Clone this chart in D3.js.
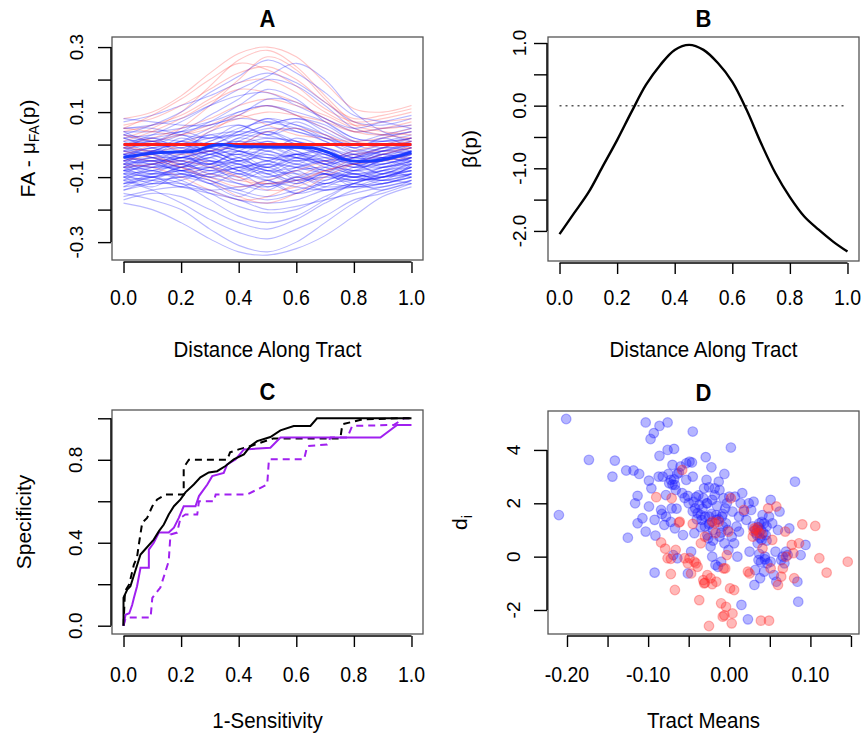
<!DOCTYPE html>
<html><head><meta charset="utf-8">
<script src="https://cdn.jsdelivr.net/npm/d3@7"></script>
<style>
body{margin:0;background:#fff;}
text{font-family:"Liberation Sans",Arial,Helvetica,sans-serif;fill:#000;}
</style></head>
<body><svg id="c" width="864" height="735"></svg>
<script>
// ---------------- DATA ----------------
// Panel A: positions along tract, individual curves (FA - mean)
const pA = [0,.1,.2,.3,.4,.5,.6,.7,.8,.9,1];
const blueCurves = [
[-.02,-.01,.00,.02,.03,.02,.01,-.01,-.03,-.02,.00],
[-.06,-.05,-.05,-.03,-.02,-.03,-.04,-.06,-.08,-.07,-.05],
[-.10,-.09,-.08,-.07,-.09,-.10,-.08,-.07,-.09,-.08,-.06],
[.02,.03,.04,.06,.08,.07,.05,.02,.00,.01,.03],
[-.14,-.12,-.10,-.12,-.15,-.17,-.15,-.12,-.11,-.10,-.08],
[-.04,-.02,.01,.05,.10,.12,.09,.04,.00,-.02,-.01],
[-.08,-.07,-.06,-.04,-.03,-.05,-.07,-.09,-.11,-.10,-.07],
[.05,.06,.08,.12,.15,.16,.12,.08,.04,.05,.06],
[-.17,-.15,-.16,-.20,-.24,-.26,-.23,-.18,-.14,-.12,-.10],
[-.01,.00,.03,.07,.12,.17,.14,.07,.02,.01,.02],
[-.05,-.06,-.08,-.10,-.12,-.13,-.11,-.09,-.10,-.09,-.06],
[-.03,-.02,-.01,.00,-.02,-.04,-.03,-.02,-.05,-.04,-.02],
[-.12,-.11,-.10,-.09,-.07,-.06,-.07,-.08,-.10,-.11,-.09],
[.01,.02,.04,.09,.14,.20,.18,.12,.05,.03,.04],
[-.07,-.08,-.11,-.15,-.19,-.21,-.20,-.16,-.12,-.09,-.07],
[-.09,-.08,-.06,-.03,.00,.02,.01,-.02,-.06,-.07,-.05],
[.03,.02,.01,.00,-.02,-.04,-.05,-.04,-.03,-.01,.02],
[-.15,-.17,-.20,-.26,-.31,-.33,-.30,-.24,-.18,-.14,-.12],
[-.06,-.04,-.02,.01,.05,.07,.06,.03,-.01,-.03,-.04],
[-.02,-.04,-.06,-.08,-.07,-.05,-.03,-.04,-.06,-.05,-.03],
[.07,.09,.12,.15,.19,.22,.19,.13,.07,.06,.08],
[-.11,-.10,-.09,-.11,-.14,-.16,-.14,-.12,-.13,-.12,-.10],
[-.04,-.05,-.04,-.02,.02,.05,.04,.01,-.03,-.04,-.02],
[.00,.01,.00,-.02,-.05,-.08,-.07,-.05,-.04,-.02,.00],
[-.13,-.12,-.12,-.14,-.17,-.18,-.17,-.14,-.13,-.13,-.11],
[-.08,-.06,-.03,.01,.04,.08,.06,.02,-.02,-.04,-.05],
[-.03,-.03,-.02,-.01,.01,.00,-.01,-.03,-.06,-.06,-.04],
[.04,.04,.05,.07,.10,.12,.10,.07,.02,.01,.02],
[-.10,-.11,-.13,-.15,-.17,-.20,-.19,-.17,-.15,-.13,-.11],
[-.05,-.04,-.04,-.05,-.06,-.08,-.09,-.09,-.10,-.08,-.05],
[-.01,-.02,-.02,.00,.03,.06,.08,.06,.01,-.01,.00],
[-.07,-.06,-.04,-.02,-.01,-.02,-.04,-.05,-.07,-.06,-.04],
[.02,.00,-.01,-.03,-.06,-.09,-.11,-.10,-.07,-.04,-.01],
[-.12,-.10,-.07,-.04,-.01,.00,-.02,-.05,-.09,-.10,-.09],
[-.06,-.07,-.07,-.06,-.08,-.11,-.13,-.14,-.13,-.10,-.08],
[.00,.03,.07,.12,.17,.21,.25,.20,.10,.04,.01],
[-.09,-.10,-.12,-.17,-.22,-.24,-.22,-.17,-.12,-.10,-.09],
[-.03,-.01,.01,.03,.04,.03,.00,-.03,-.05,-.03,-.01],
[-.16,-.14,-.13,-.14,-.13,-.12,-.11,-.10,-.11,-.10,-.07],
[-.02,-.03,-.05,-.06,-.04,-.01,.00,-.01,-.04,-.04,-.02],
[.05,.05,.03,.02,.03,.06,.08,.05,.01,.03,.05],
[-.08,-.09,-.09,-.07,-.05,-.04,-.06,-.09,-.12,-.12,-.10],
[-.18,-.20,-.24,-.29,-.33,-.34,-.32,-.28,-.22,-.16,-.13],
[.08,.07,.06,.06,.09,.14,.13,.08,.05,.07,.09],
[-.05,-.03,-.06,-.02,-.05,-.01,-.04,-.06,-.03,-.07,-.04],
[-.09,-.06,-.08,-.05,-.07,-.09,-.06,-.08,-.10,-.07,-.06],
[.00,-.03,.01,-.02,.02,.00,-.03,-.01,-.04,-.02,.01],
[-.11,-.08,-.10,-.07,-.11,-.08,-.12,-.09,-.11,-.08,-.07],
[-.03,-.06,-.03,-.07,-.04,-.08,-.05,-.08,-.06,-.09,-.05],
[.03,.01,.04,.02,.06,.03,.05,.01,-.02,.00,.02],
[-.07,-.04,-.07,-.03,-.06,-.02,-.05,-.03,-.07,-.05,-.03],
[-.13,-.10,-.13,-.09,-.12,-.14,-.10,-.13,-.12,-.09,-.08],
[-.04,-.07,-.05,-.09,-.06,-.10,-.07,-.05,-.08,-.06,-.04],
[-.01,.02,-.01,.03,.00,.04,.01,-.02,-.04,-.01,.01],
[-.08,-.10,-.07,-.10,-.08,-.05,-.09,-.11,-.08,-.10,-.07],
[-.06,-.02,-.05,-.01,.01,-.02,.02,-.01,-.05,-.03,-.02],
[-.10,-.13,-.09,-.12,-.16,-.12,-.15,-.11,-.09,-.11,-.09],
[.01,-.02,.02,-.01,-.03,.01,-.02,-.05,-.02,-.03,.00],
[-.05,-.08,-.04,-.06,-.02,-.05,-.01,-.04,-.07,-.04,-.06],
[-.12,-.09,-.06,-.08,-.05,-.07,-.04,-.07,-.10,-.08,-.10],
[-.02,.01,-.02,.04,.06,.03,.07,.03,-.01,.02,-.01],
[-.07,-.10,-.08,-.12,-.09,-.13,-.10,-.12,-.09,-.11,-.06],
[-.04,-.01,-.04,-.02,-.05,-.03,-.06,-.02,-.05,-.02,-.03],
[-.09,-.12,-.11,-.08,-.10,-.07,-.11,-.14,-.12,-.14,-.11],
[.04,.01,.03,.00,.04,.08,.04,.02,-.01,.02,.04],
[-.06,-.09,-.07,-.04,-.08,-.06,-.03,-.06,-.09,-.07,-.04],
[-.03,-.05,-.02,-.05,-.09,-.06,-.10,-.07,-.04,-.06,-.03],
[-.10,-.07,-.04,-.06,-.02,.01,-.03,-.06,-.08,-.05,-.07],
[-.01,-.04,-.07,-.05,-.08,-.11,-.08,-.12,-.08,-.05,-.02],
[-.08,-.05,-.08,-.06,-.03,-.07,-.04,-.02,-.06,-.09,-.08],
[-.05,-.02,.00,-.03,.01,.04,.00,-.03,-.06,-.03,-.05],
[-.14,-.11,-.08,-.10,-.07,-.09,-.12,-.09,-.13,-.11,-.12],
[.02,-.01,-.04,-.01,-.04,-.07,-.03,-.06,-.04,-.01,-.02],
[-.07,-.05,-.09,-.11,-.14,-.11,-.15,-.13,-.10,-.12,-.09],
[.03,.06,.10,.16,.21,.26,.22,.16,.09,.07,.05],
[-.11,-.14,-.18,-.23,-.27,-.29,-.26,-.22,-.17,-.15,-.12]
];
const redCurves = [
[.02,.05,.10,.18,.26,.29,.24,.15,.07,.05,.06],
[-.03,.00,.05,.12,.20,.27,.23,.14,.06,.04,.03],
[.04,.06,.09,.14,.19,.20,.16,.10,.06,.07,.08],
[-.06,-.07,-.10,-.14,-.17,-.16,-.12,-.08,-.06,-.05,-.04],
[.00,.02,.05,.08,.12,.14,.12,.09,.05,.03,.02],
[-.02,-.04,-.06,-.09,-.11,-.12,-.10,-.06,-.03,-.02,-.01],
[.06,.08,.12,.17,.22,.24,.20,.13,.08,.09,.11],
[-.05,-.03,.00,.04,.09,.12,.09,.05,.01,.00,-.01],
[.03,.01,-.02,-.06,-.10,-.14,-.13,-.09,-.04,-.01,.01],
[.08,.10,.15,.22,.28,.30,.27,.19,.11,.10,.12],
[-.01,.01,.03,.06,.09,.06,.03,.02,.01,.02,.04],
[-.07,-.06,-.05,-.07,-.10,-.12,-.11,-.08,-.06,-.05,-.03],
[.01,.04,.08,.13,.17,.16,.13,.08,.04,.03,.05],
[-.04,-.05,-.07,-.10,-.13,-.11,-.08,-.05,-.02,.00,.02],
[.05,.04,.03,.05,.08,.10,.09,.07,.04,.05,.07],
[-.01,-.02,-.03,-.02,.00,.04,.05,.03,.00,.00,.01],
[.00,-.03,-.07,-.11,-.16,-.18,-.15,-.10,-.06,-.03,-.01],
[.05,.09,.14,.20,.25,.23,.18,.11,.07,.08,.10]
];
const redMeanP = [0,1];
const redMean = [0,0];
const blueMeanP = [0,.13,.24,.30,.34,.40,.56,.65,.71,.76,.82,.88,.94,1];
const blueMean = [-.039,-.024,-.021,-.005,0,-.006,-.008,-.010,-.024,-.044,-.052,-.049,-.039,-.024];

// Panel B: beta(p)
const pB = [0,.05,.1,.15,.2,.25,.3,.35,.4,.45,.5,.55,.6,.65,.7,.75,.8,.85,.9,.95,1];
const betaB = [-2.05,-1.72,-1.39,-0.97,-0.55,-0.10,0.33,0.65,0.89,0.97,0.89,0.68,0.38,-0.07,-0.60,-1.08,-1.46,-1.77,-1.98,-2.17,-2.33];

// Panel C: ROC curves [1-sensitivity, specificity]
const rocBlackSolid = [[0,0],[0,.135],[.013,.174],[.024,.19],[.059,.343],[.07,.36],[.105,.415],[.123,.456],[.14,.488],[.157,.536],[.175,.576],[.198,.609],[.215,.643],[.244,.681],[.267,.715],[.296,.739],[.325,.745],[.354,.77],[.383,.802],[.418,.826],[.441,.866],[.464,.89],[.51,.91],[.545,.942],[.591,.963],[.649,.963],[.672,1],[1,1]];
const rocBlackDash = [[0,0],[.005,.166],[.02,.2],[.036,.295],[.047,.33],[.053,.39],[.065,.497],[.082,.52],[.1,.576],[.117,.609],[.146,.633],[.209,.633],[.209,.763],[.227,.8],[.36,.8],[.37,.836],[.4,.85],[.45,.87],[.52,.903],[.753,.903],[.76,.971],[.83,.995],[.96,1],[1,1]];
const rocPurpleSolid = [[0,0],[.007,.053],[.02,.06],[.03,.1],[.036,.134],[.047,.19],[.059,.279],[.088,.279],[.088,.367],[.105,.4],[.123,.449],[.157,.449],[.175,.473],[.192,.52],[.209,.576],[.25,.576],[.262,.625],[.291,.681],[.308,.721],[.348,.737],[.36,.778],[.389,.802],[.418,.85],[.51,.858],[.545,.907],[.892,.907],[.95,.968],[1,.968]];
const rocPurpleDash = [[0,0],[.007,.035],[.013,.04],[.094,.04],[.1,.134],[.128,.184],[.157,.311],[.163,.44],[.186,.449],[.198,.52],[.215,.536],[.256,.536],[.262,.6],[.314,.6],[.32,.633],[.43,.633],[.499,.681],[.505,.802],[.627,.802],[.638,.866],[.707,.874],[.719,.907],[.777,.907],[.794,.963],[.939,.968],[.974,1],[1,1]];

// Panel D: scatter [tract mean, d_i]
const blueTract = [-.201,-.21,-.173,-.144,-.141,-.127,-.118,-.111,-.125,-.116,-.113,-.113,-.107,-.103,-.103,-.099,-.099,-.097,-.096,-.093,-.092,-.092,-.091,-.087,-.086,-.086,-.084,-.082,-.08,-.078,-.076,-.076,-.074,-.072,-.071,-.07,-.069,-.068,-.067,-.067,-.064,-.062,-.06,-.058,-.057,-.053,-.053,-.051,-.051,-.049,-.047,-.046,-.045,-.045,-.044,-.043,-.042,-.041,-.039,-.037,-.035,-.034,-.032,-.031,-.03,-.029,-.028,-.027,-.026,-.025,-.025,-.024,-.023,-.022,-.021,-.021,-.02,-.018,-.017,-.016,-.016,-.014,-.013,-.012,-.012,-.01,-.009,-.008,-.007,-.006,-.006,-.005,-.004,-.003,-.002,-.001,0,.002,.003,.004,.006,.007,.009,.01,.012,.012,.014,.015,.016,.018,.021,.023,.024,.025,.027,.029,.03,.031,.032,.033,.035,.036,.037,.038,.039,.04,.041,.043,.043,.044,.045,.046,.047,.049,.051,.051,.053,.055,.057,.058,.06,.062,.064,.066,.068,.07,.072,.074,.081,.084,.085,.088,.094,
-.055,-.05,-.045,-.04,-.038,-.035,-.033,-.03,-.028,-.027,-.025,-.022,-.02,-.018,-.015,-.013,-.01,-.008,.032,.034,.036,.038,.04,.042,.044,.046,.039,.037,-.07,-.068,-.066,-.064,-.075,-.083,-.078,-.072,-.065];
const blueD = [5.16,1.56,3.63,3.0,3.6,3.23,3.23,3.1,.71,2.0,2.28,1.25,1.44,.94,5.03,2.85,1.88,4.41,2.56,4.63,1.38,-.6,.79,3.0,4.9,3.78,1.75,3.0,1.19,2.31,5.03,4.0,2.75,2.88,1.81,3.44,.06,4.04,2.69,1.06,-.06,3.15,3.38,2.38,.81,3.5,2.88,2.28,-.63,3.56,.19,3.53,3.0,4.69,2.06,.88,1.81,2.23,1.63,1.94,1.56,1.38,2.19,2.56,1.13,3.73,2.88,2.0,.69,1.5,2.6,1.25,.38,3.35,0,2.13,1.0,2.56,-.31,1.56,1.38,-.38,2.81,.75,2.5,-.19,1.5,1.13,2.19,3.1,.5,1.81,1.25,2.0,1.0,.25,2.25,4.09,.75,1.69,.5,2.25,1.13,0,.94,1.5,2.0,-1.81,2.38,1.69,1.38,-2.35,2.0,.19,1.75,1.13,2.06,-1.06,-.5,.88,.5,-.13,1.25,-.81,1.0,.63,1.56,-.56,1.25,0,.81,1.13,-.25,1.5,2.13,-.19,1.25,-.69,.19,-.94,1.0,1.69,-.13,0,-.25,.19,.06,1.06,2.81,-.94,-1.69,.06,.44,
2.2,2.0,1.7,1.4,2.3,1.1,1.8,1.5,2.0,.8,1.2,1.6,.6,2.3,1.9,1.4,.9,1.6,1.0,.8,1.1,.7,1.3,.9,-.1,.6,-.2,.1,2.7,2.9,2.5,3.1,3.1,1.6,1.5,1.3,1.8];
const redTract = [-.09,-.084,-.079,-.076,-.072,-.071,-.067,-.066,-.062,-.061,-.058,-.055,-.051,-.049,-.047,-.045,-.043,-.041,-.039,-.037,-.035,-.032,-.031,-.03,-.027,-.025,-.023,-.021,-.021,-.018,-.017,-.016,-.013,-.01,-.008,-.007,-.005,-.004,-.003,-.001,.001,.002,.003,.004,.006,.018,.023,.025,.029,.031,.034,.037,.039,.041,.049,.051,.053,.048,.058,.06,.064,.066,.069,.07,.077,.079,.08,.086,.09,.106,.111,.12,.146,.03,.04,.035,-.072,-.03,-.006];
const redD = [2.23,.53,.3,-.06,-.65,2.19,-1.25,.25,1.28,1.31,3.25,-.06,-.25,-.06,-.63,1.23,-.19,-.25,-.38,-1.63,.5,-.88,-1.0,.75,-.69,-2.6,-.81,1.31,-1.03,1.25,.88,-.94,1.31,-1.75,-2.25,-.44,-.44,-1.88,.06,.94,-1.19,2.19,-2.5,-2.13,-1.25,1.75,-.56,-.63,.75,1.06,1.0,.88,-2.4,.31,-2.4,-.44,.63,1.81,1.88,-1.06,-.75,-.44,.94,0,.44,.13,-.81,.5,1.21,1.15,-.06,-.6,-.19,.95,.85,1.1,-.08,-.98,-2.2];

// Axis ticks and labels
const ticksUnit = [0,.2,.4,.6,.8,1];
const labelsUnit = ["0.0","0.2","0.4","0.6","0.8","1.0"];
const ticksAy = [-.3,-.2,-.1,0,.1,.2,.3];
const labelsAy = ["-0.3","","-0.1","","0.1","","0.3"];
const ticksBy = [-2,-1.5,-1,-.5,0,.5,1];
const labelsBy = ["-2.0","","-1.0","","0.0","","1.0"];
const ticksCy = [0,.2,.4,.6,.8,1];
const labelsCy = ["0.0","","0.4","","0.8",""];
const ticksDx = [-.2,-.15,-.1,-.05,0,.05,.1,.15];
const labelsDx = ["-0.20","","-0.10","","0.00","","0.10",""];
const ticksDy = [-2,0,2,4];
const labelsDy = ["-2","0","2","4"];

// ---------------- DRAW ----------------
const svg = d3.select("#c");
const FSX = 19.5, FSY = 19, FST = 20.5, FSYT = 21;

function panel(cfg){
  const g = svg.append("g");
  const x = d3.scaleLinear().domain(cfg.xd).range([cfg.box[0], cfg.box[2]]);
  const y = d3.scaleLinear().domain(cfg.yd).range([cfg.box[3], cfg.box[1]]);
  const plot = g.append("g");
  g.append("rect").attr("x",cfg.box[0]).attr("y",cfg.box[1])
    .attr("width",cfg.box[2]-cfg.box[0]).attr("height",cfg.box[3]-cfg.box[1])
    .attr("fill","none").attr("stroke","#555").attr("stroke-width",1.3);
  // x axis
  const xa = g.append("g").attr("transform",`translate(0,${cfg.box[3]+2})`)
    .call(d3.axisBottom(x).tickValues(cfg.xt).tickSize(11).tickSizeOuter(0).tickFormat(""));
  xa.select(".domain").remove();
  xa.selectAll(".tick line").attr("stroke","#000").attr("stroke-width",1.4);
  g.append("line").attr("x1",x(cfg.xt[0])).attr("x2",x(cfg.xt[cfg.xt.length-1]))
    .attr("y1",cfg.box[3]+2).attr("y2",cfg.box[3]+2).attr("stroke","#000").attr("stroke-width",1.5);
  g.selectAll(null).data(cfg.xt).enter().append("text")
    .attr("transform",d=>`translate(${x(d)},${cfg.xly}) scale(1,1.12)`)
    .attr("text-anchor","middle").attr("font-size",FSX)
    .text((d,i)=>cfg.xl[i]);
  // y axis
  const ya = g.append("g").attr("transform",`translate(${cfg.box[0]-1},0)`)
    .call(d3.axisLeft(y).tickValues(cfg.yt).tickSize(13).tickSizeOuter(0).tickFormat(""));
  ya.select(".domain").remove();
  ya.selectAll(".tick line").attr("stroke","#000").attr("stroke-width",1.4);
  g.append("line").attr("y1",y(cfg.yt[0])).attr("y2",y(cfg.yt[cfg.yt.length-1]))
    .attr("x1",cfg.box[0]-1).attr("x2",cfg.box[0]-1).attr("stroke","#000").attr("stroke-width",1.5);
  g.selectAll(null).data(cfg.yt).enter().append("text")
    .attr("transform",d=>`translate(${cfg.ylx},${y(d)}) rotate(-90)`)
    .attr("text-anchor","middle").attr("font-size",FSY)
    .text((d,i)=>cfg.yl[i]);
  // title
  g.append("text").attr("transform",`translate(${(cfg.box[0]+cfg.box[2])/2},${cfg.box[1]-10}) scale(1,1.08)`)
    .attr("text-anchor","middle").attr("font-size",22).attr("font-weight","bold").text(cfg.title);
  // axis titles
  g.append("text").attr("transform",`translate(${(cfg.box[0]+cfg.box[2])/2},${cfg.xty}) scale(1,1.1)`)
    .attr("text-anchor","middle").attr("font-size",FST).text(cfg.xtitle);
  const yt = g.append("text").attr("transform",`translate(${cfg.ytx},${(cfg.box[1]+cfg.box[3])/2}) rotate(-90)`)
    .attr("text-anchor","middle").attr("font-size",FSYT);
  cfg.ytitle(yt);
  return {x,y,plot};
}

// Panel A
{
  const {x,y,plot} = panel({box:[112,37,423,260], xd:[-.04,1.04], yd:[-.355,.331],
    xt:ticksUnit, xl:labelsUnit, yt:ticksAy, yl:labelsAy, xly:305, ylx:83,
    title:"A", xtitle:"Distance Along Tract", xty:357, ytx:35,
    ytitle:t=>{t.append("tspan").text("FA - μ");
      t.append("tspan").attr("font-size",14).attr("dy",4).text("FA");
      t.append("tspan").attr("dy",-4).text("(p)");}});
  const line = d3.line().x((d,i)=>x(pA[i])).y(d=>y(d)).curve(d3.curveCatmullRom.alpha(.5));
  svg.append("clipPath").attr("id","clipA").append("rect").attr("x",112).attr("y",37).attr("width",311).attr("height",223);
  plot.attr("clip-path","url(#clipA)");
  const all = [];
  blueCurves.forEach((c,i)=>{all.push({c,col:"rgba(20,20,255,0.3)"}); if(i%4===1 && redCurves[(i-1)/4]) all.push({c:redCurves[(i-1)/4],col:"rgba(255,50,50,0.28)"});});
  redCurves.forEach((c,i)=>{ if(4*i+1>=blueCurves.length) all.push({c,col:"rgba(255,50,50,0.28)"}); });
  plot.selectAll(".cv").data(all).enter().append("path")
    .attr("d",d=>line(d.c)).attr("fill","none").attr("stroke",d=>d.col).attr("stroke-width",1.1);
  plot.append("path").attr("d",d3.line().x((d,i)=>x(redMeanP[i])).y(d=>y(d))(redMean))
    .attr("fill","none").attr("stroke","#ff1a1a").attr("stroke-width",3);
  plot.append("path").attr("d",d3.line().x((d,i)=>x(blueMeanP[i])).y(d=>y(d)).curve(d3.curveMonotoneX)(blueMean))
    .attr("fill","none").attr("stroke","#1a3cff").attr("stroke-width",3);
}
// Panel B
{
  const {x,y,plot} = panel({box:[548,37,859,261], xd:[-.04,1.04], yd:[-2.48,1.096],
    xt:ticksUnit, xl:labelsUnit, yt:ticksBy, yl:labelsBy, xly:305, ylx:526,
    title:"B", xtitle:"Distance Along Tract", xty:357, ytx:477,
    ytitle:t=>t.text("β(p)")});
  plot.append("line").attr("x1",x(0)).attr("x2",x(1)).attr("y1",y(0)).attr("y2",y(0))
    .attr("stroke","#555").attr("stroke-width",1.5).attr("stroke-dasharray","2,4");
  plot.append("path").attr("d",d3.line().x((d,i)=>x(pB[i])).y(d=>y(d)).curve(d3.curveCatmullRom.alpha(.5))(betaB))
    .attr("fill","none").attr("stroke","#000").attr("stroke-width",2.4);
}
// Panel C
{
  const {x,y,plot} = panel({box:[112,410,423,634], xd:[-.04,1.04], yd:[-.04,1.04],
    xt:ticksUnit, xl:labelsUnit, yt:ticksCy, yl:labelsCy, xly:682, ylx:82,
    title:"C", xtitle:"1-Sensitivity", xty:728, ytx:31,
    ytitle:t=>t.text("Specificity")});
  const line = d3.line().x(d=>x(d[0])).y(d=>y(d[1]));
  const specs = [
    {d:rocPurpleDash, c:"#a020f0", dash:"7,5"},
    {d:rocBlackDash, c:"#000", dash:"7,5"},
    {d:rocPurpleSolid, c:"#a020f0", dash:null},
    {d:rocBlackSolid, c:"#000", dash:null}];
  specs.forEach(s=>{
    plot.append("path").attr("d",line(s.d)).attr("fill","none").attr("stroke",s.c)
      .attr("stroke-width",2).attr("stroke-dasharray",s.dash);
  });
}
// Panel D
{
  const {x,y,plot} = panel({box:[548,411,859,634], xd:[-.2234,.1599], yd:[-2.9,5.46],
    xt:ticksDx, xl:labelsDx, yt:ticksDy, yl:labelsDy, xly:682, ylx:520,
    title:"D", xtitle:"Tract Means", xty:728, ytx:467,
    ytitle:t=>{t.append("tspan").text("d"); t.append("tspan").attr("font-size",14).attr("dy",5).text("i");}});
  const pts = [];
  blueTract.forEach((v,i)=>pts.push({x:v,y:blueD[i],c:"rgba(30,30,255,0.33)"}));
  redTract.forEach((v,i)=>pts.push({x:v,y:redD[i],c:"rgba(255,40,40,0.33)"}));
  plot.selectAll("circle").data(pts).enter().append("circle")
    .attr("cx",d=>x(d.x)).attr("cy",d=>y(d.y)).attr("r",4.8)
    .attr("fill",d=>d.c).attr("stroke",d=>d.c).attr("stroke-width",1.2);
}
</script></body></html>
